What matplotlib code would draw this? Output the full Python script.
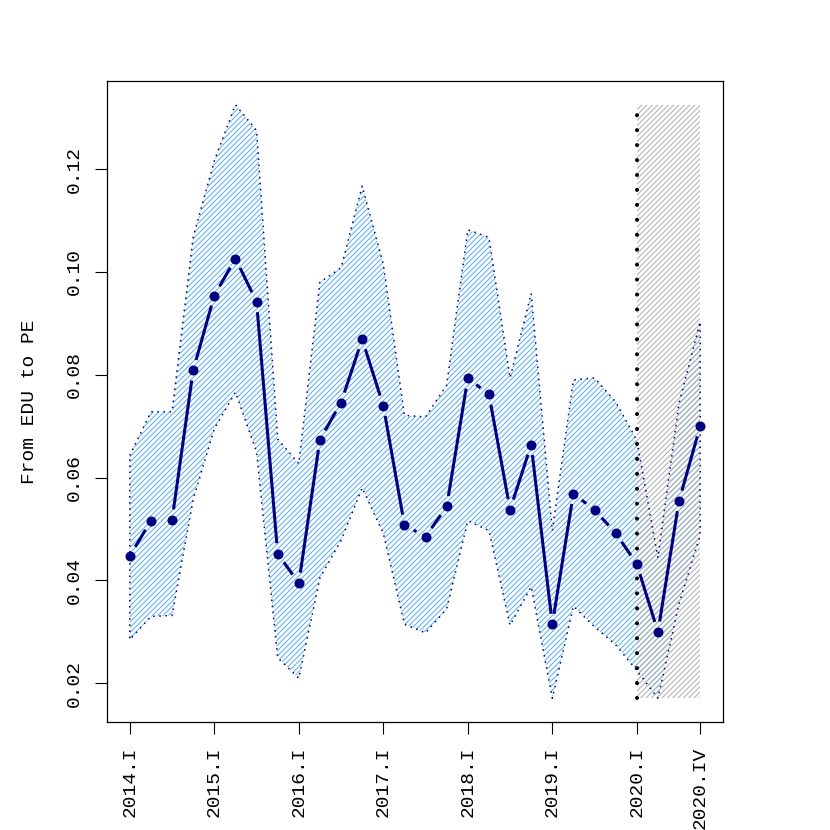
import numpy as np
import matplotlib
matplotlib.use("Agg")
import matplotlib.pyplot as plt

quarters = [f"{y}.{q}" for y in range(2014, 2021) for q in ["I", "II", "III", "IV"]]

estimate = [0.0448, 0.0516, 0.0518, 0.0809,
            0.0954, 0.1026, 0.0942, 0.0452,
            0.0395, 0.0674, 0.0746, 0.0869,
            0.0740, 0.0508, 0.0485, 0.0544,
            0.0793, 0.0762, 0.0538, 0.0664,
            0.0315, 0.0569, 0.0537, 0.0492,
            0.0432, 0.0300, 0.0555, 0.0700]

upper = [0.0643, 0.0728, 0.0728, 0.1068,
         0.1216, 0.1325, 0.1275, 0.0675,
         0.0627, 0.0980, 0.1008, 0.1167,
         0.1015, 0.0721, 0.0718, 0.0780,
         0.1082, 0.1067, 0.0794, 0.0958,
         0.0497, 0.0790, 0.0794, 0.0747,
         0.0673, 0.0444, 0.0745, 0.0903]

lower = [0.0285, 0.0330, 0.0332, 0.0558,
         0.0695, 0.0766, 0.0650, 0.0250,
         0.0210, 0.0405, 0.0478, 0.0580,
         0.0492, 0.0315, 0.0298, 0.0345,
         0.0516, 0.0497, 0.0313, 0.0388,
         0.0171, 0.0350, 0.0310, 0.0275,
         0.0225, 0.0171, 0.0355, 0.0488]

xtick_labels = ["2014.I", "2015.I", "2016.I", "2017.I", "2018.I", "2019.I", "2020.I", "2020.IV"]
ytick_values = [0.02, 0.04, 0.06, 0.08, 0.10, 0.12]
forecast_start = "2020.I"
ylabel = "From EDU to PE"

DPI = 96
S = 100 / DPI  # keep pixel sizes as designed for 100 dpi

plt.rcParams['font.family'] = ['Liberation Mono', 'DejaVu Sans Mono']
plt.rcParams['hatch.linewidth'] = 0.8 * S

FS = 14 * S
fig = plt.figure(figsize=(830 / DPI, 830 / DPI), dpi=DPI)
ax = fig.add_axes([107/830, 1-722/830, (723-107)/830, (722-81)/830])

x = np.arange(len(quarters))
est = np.array(estimate)
up = np.array(upper)
lo = np.array(lower)

ymin, ymax = lo.min(), up.max()
pad_y = 0.04 * (ymax - ymin)
pad_x = 0.04 * (x[-1] - x[0])
ax.set_xlim(x[0] - pad_x, x[-1] + pad_x)
ax.set_ylim(ymin - pad_y, ymax + pad_y)

navy = '#000080'

# band (hatched only)
ax.fill_between(x, lo, up, facecolor='none', edgecolor='#66b4f6', linewidth=0,
                hatch='/' * 6, zorder=1)
# band border, dotted
px = np.concatenate([x, x[::-1], [x[0]]])
py = np.concatenate([up, lo[::-1], [up[0]]])
ax.plot(px, py, color=navy, lw=1.1 * S, linestyle=(0, (1, 3)), zorder=2)

# forecast region
fs_idx = quarters.index(forecast_start)
ax.fill_between([x[fs_idx], x[-1]], [ymin, ymin], [ymax, ymax], facecolor='none',
                edgecolor='#b4b4b4', linewidth=0, hatch='/' * 6, zorder=1.5)
ax.plot([x[fs_idx], x[fs_idx]], [ymin, ymax], color='black', lw=2.9 * S,
        linestyle=(0, (0.01, 3.7)), dash_capstyle='round', zorder=3)

# line with gaps (type "b")
fig.canvas.draw()
pts = ax.transData.transform(np.column_stack([x, est]))
inv = ax.transData.inverted()
gap = 10.5
for i in range(len(pts) - 1):
    p0, p1 = pts[i], pts[i + 1]
    d = p1 - p0
    L = np.hypot(*d)
    if L > 2 * gap:
        u = d / L
        a = inv.transform(p0 + u * gap)
        b = inv.transform(p1 - u * gap)
        ax.plot([a[0], b[0]], [a[1], b[1]], color=navy, lw=2.2 * S,
                solid_capstyle='butt', zorder=4)
ax.plot(x, est, linestyle='none', marker='o', markersize=7.2 * S, color=navy,
        markeredgewidth=0, zorder=5)

# axes styling
tick_pos = [quarters.index(q) for q in xtick_labels]
ax.set_xticks(tick_pos)
ax.set_xticklabels(xtick_labels, rotation=90, fontsize=FS)
ax.set_yticks(ytick_values)
ax.set_yticklabels([f"{v:.2f}" for v in ytick_values], rotation=90, va='center', fontsize=FS)
ax.tick_params(axis='both', length=8.5 * S, width=0.8 * S, pad=9 * S, color='black')
for s in ax.spines.values():
    s.set_linewidth(0.9 * S)
ax.set_ylabel(ylabel, fontsize=FS, labelpad=20 * S)

fig.savefig("out.png", dpi=DPI, facecolor='white')
